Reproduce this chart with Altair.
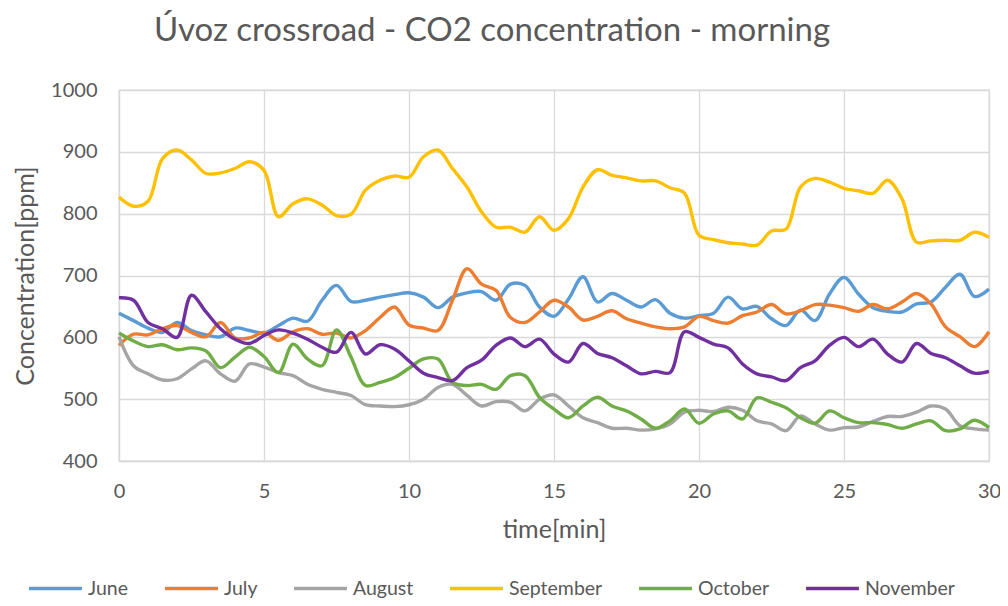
import altair as alt
import pandas as pd

times = [i / 2 for i in range(61)]

june = [639, 627, 615, 608, 624, 611, 604, 601, 615, 611, 607, 619, 631, 626, 660, 684, 658, 660, 665, 669, 672,
        665, 648, 665, 672, 674, 660, 686, 684, 649, 634, 662, 698, 657, 671, 660, 649, 661, 639, 631, 635,
        639, 665, 646, 650, 630, 619, 644, 627, 670, 697, 670, 648, 642, 641, 654, 657, 681, 702, 666, 678]
july = [587, 605, 604, 614, 619, 608, 601, 624, 599, 599, 608, 595, 609, 614, 605, 607, 599, 611, 632, 649, 620,
        615, 611, 660, 711, 686, 676, 632, 624, 641, 660, 649, 628, 634, 643, 630, 623, 617, 614, 617, 634,
        627, 623, 635, 641, 653, 638, 643, 653, 652, 648, 642, 653, 646, 657, 671, 654, 617, 601, 585, 609]
august = [601, 554, 541, 531, 533, 549, 562, 541, 529, 557, 552, 543, 538, 524, 516, 511, 506, 491, 489, 488, 491,
          500, 519, 524, 506, 489, 496, 495, 481, 500, 507, 489, 470, 462, 453, 453, 450, 452, 460, 479, 482,
          480, 487, 482, 465, 460, 449, 473, 460, 450, 454, 455, 464, 472, 472, 479, 489, 484, 457, 452, 450]
september = [827, 812, 820, 889, 903, 887, 865, 866, 873, 884, 870, 795, 816, 824, 814, 797, 799, 838, 854, 861, 859,
             892, 903, 873, 843, 803, 778, 778, 770, 795, 773, 792, 843, 871, 862, 858, 853, 853, 842, 833, 765,
             758, 753, 751, 749, 772, 775, 843, 857, 851, 841, 837, 833, 854, 824, 754, 756, 757, 757, 770, 762]
october = [607, 594, 585, 588, 580, 583, 578, 551, 568, 584, 569, 543, 589, 565, 554, 612, 568, 522, 527, 535, 550,
           565, 565, 527, 522, 524, 516, 538, 538, 503, 484, 470, 489, 503, 489, 481, 468, 453, 465, 484, 461,
           476, 481, 468, 502, 495, 486, 470, 461, 481, 470, 462, 462, 459, 453, 460, 465, 449, 452, 466, 454]
november = [664, 660, 624, 614, 600, 668, 641, 614, 597, 590, 603, 612, 607, 597, 584, 576, 608, 573, 588, 581, 562,
            542, 535, 530, 551, 563, 587, 599, 585, 597, 573, 560, 590, 574, 567, 554, 541, 545, 543, 609, 600,
            589, 583, 557, 541, 536, 530, 551, 562, 587, 600, 585, 597, 573, 560, 590, 574, 567, 554, 542, 545]

months = ["June", "July", "August", "September", "October", "November"]
colors = ["#5B9BD5", "#ED7D31", "#A5A5A5", "#FFC000", "#70AD47", "#7030A0"]
series = [june, july, august, september, october, november]

rows = []
for m, vals in zip(months, series):
    for t, v in zip(times, vals):
        rows.append({"time": t, "value": v, "month": m})
df = pd.DataFrame(rows)

FONT = "Lato"
GRAY = "#595959"

chart = alt.Chart(df).mark_line(
    interpolate="catmull-rom", strokeWidth=3.4
).encode(
    x=alt.X("time:Q", scale=alt.Scale(domain=[0, 30], nice=False),
            axis=alt.Axis(values=[0, 5, 10, 15, 20, 25, 30], title="time[min]",
                          labelPadding=20, titlePadding=16, ticks=False,
                          labelAlign="center", labelFlush=False)),
    y=alt.Y("value:Q", scale=alt.Scale(domain=[400, 1000], nice=False, zero=False),
            axis=alt.Axis(values=[400, 500, 600, 700, 800, 900, 1000], title="Concentration[ppm]",
                          format="d", labelPadding=22, titlePadding=12, ticks=False)),
    color=alt.Color("month:N", sort=months,
                    scale=alt.Scale(domain=months, range=colors),
                    legend=alt.Legend(title=None, orient="none", direction="horizontal",
                                      legendX=-92, legendY=470, symbolType="stroke",
                                      symbolSize=2800, symbolStrokeWidth=3.5,
                                      labelFontSize=19.5, labelColor=GRAY, labelFont=FONT,
                                      columnPadding=29, labelOffset=4)),
    order=alt.Order("time:Q"),
).properties(
    width=870, height=371,
    title=alt.TitleParams("Úvoz crossroad - CO2 concentration - morning",
                          fontSize=33, font=FONT, color=GRAY, fontWeight="normal",
                          anchor="middle", dx=-62, offset=32),
    autosize=alt.AutoSizeParams(type="none"),
    padding={"left": 111, "top": 82, "right": 11, "bottom": 137},
).configure_axis(
    gridColor="#D9D9D9", gridWidth=1.3, domainColor="#D9D9D9", domainWidth=1.3,
    labelFontSize=20, labelColor=GRAY, labelFont=FONT,
    titleFontSize=25, titleColor=GRAY, titleFont=FONT, titleFontWeight="normal",
).configure_view(stroke="#D9D9D9", strokeWidth=1.3)

chart.save("out.html", embed_options={"renderer": "svg", "actions": False})
